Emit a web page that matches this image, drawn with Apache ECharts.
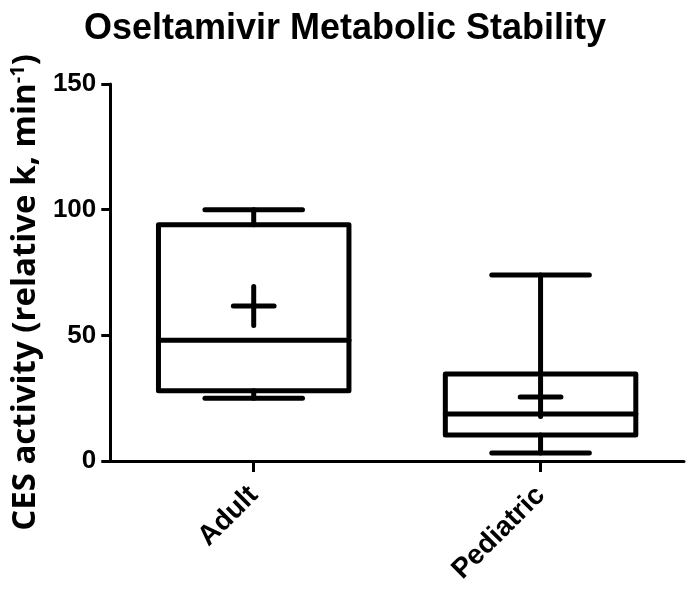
<!DOCTYPE html>
<html>
<head>
<meta charset="utf-8">
<script src="https://cdn.jsdelivr.net/npm/echarts@6/dist/echarts.min.js"></script>
<style>
html,body{margin:0;padding:0;background:#fff;}
#chart{width:690px;height:601px;}
</style>
</head>
<body>
<div id="chart"></div>
<script>
// ---- data ----
const categories = ['Adult', 'Pediatric'];
const whiskerMin = [25, 3.2];
const q1 = [28, 10.3];
const median = [48, 18.7];
const q3 = [94, 34.6];
const whiskerMax = [100, 74];
const mean = [61.7, 25.5];
const yTicks = [0, 50, 100, 150];

const data = categories.map((c, i) => [i, whiskerMin[i], q1[i], median[i], q3[i], whiskerMax[i], mean[i]]);

const chart = echarts.init(document.getElementById('chart'), null, {renderer: 'canvas'});

const LW = 5;
function renderItem(params, api) {
  const idx = api.value(0);
  const band = api.size([1, 0])[0];
  const boxHalf = band * 0.332;
  const capHalf = band * 0.17;
  const meanHalfW = band * 0.071;
  const meanHalfH = 19.5;
  const pMin = api.coord([idx, api.value(1)]);
  const pQ1 = api.coord([idx, api.value(2)]);
  const pMed = api.coord([idx, api.value(3)]);
  const pQ3 = api.coord([idx, api.value(4)]);
  const pMax = api.coord([idx, api.value(5)]);
  const pMean = api.coord([idx, api.value(6)]);
  const x = pMed[0];
  const st = {stroke: '#000', lineWidth: LW, fill: null, lineCap: 'round', lineJoin: 'round'};
  const line = (x1, y1, x2, y2) => ({type: 'line', shape: {x1, y1, x2, y2}, style: st});
  return {
    type: 'group',
    children: [
      line(x, pQ3[1], x, pMax[1]),
      line(x - capHalf, pMax[1], x + capHalf, pMax[1]),
      line(x, pQ1[1], x, pMin[1]),
      line(x - capHalf, pMin[1], x + capHalf, pMin[1]),
      {type: 'rect', shape: {x: x - boxHalf, y: pQ3[1], width: boxHalf * 2, height: pQ1[1] - pQ3[1]}, style: st},
      line(x - boxHalf, pMed[1], x + boxHalf, pMed[1]),
      line(x - meanHalfW, pMean[1], x + meanHalfW, pMean[1]),
      line(x, pMean[1] - meanHalfH, x, pMean[1] + meanHalfH)
    ]
  };
}

chart.setOption({
  backgroundColor: '#fff',
  animation: false,
  title: {
    text: 'Oseltamivir Metabolic Stability',
    left: 'center',
    top: 6,
    textStyle: {fontFamily: 'Liberation Sans', fontWeight: 'bold', fontSize: 36, color: '#000'}
  },
  grid: {left: 107, right: 6, top: 84, bottom: 140, containLabel: false},
  xAxis: {
    type: 'category',
    data: categories,
    boundaryGap: true,
    axisLine: {show: true, lineStyle: {color: '#000', width: 3}},
    axisTick: {show: true, alignWithLabel: true, length: 11, lineStyle: {color: '#000', width: 3}},
    axisLabel: {
      rotate: 45, margin: 30, color: '#000',
      fontFamily: 'Liberation Sans', fontWeight: 'bold', fontSize: 28
    },
    splitLine: {show: false}
  },
  yAxis: {
    type: 'value',
    min: yTicks[0], max: yTicks[yTicks.length - 1], interval: 50,
    name: 'CES activity (relative k, min{sup|-1})',
    nameLocation: 'middle',
    nameGap: 62,
    nameTextStyle: {
      fontFamily: 'Open Sans', fontWeight: 'bold', fontSize: 33, color: '#000',
      padding: [0, 40, 0, 0],
      rich: {sup: {fontFamily: 'Open Sans', fontWeight: 'bold', fontSize: 20, color: '#000', verticalAlign: 'top', padding: [0, 0, 15, 0]}}
    },
    axisLine: {show: true, lineStyle: {color: '#000', width: 3}},
    axisTick: {show: true, length: 9, lineStyle: {color: '#000', width: 3}},
    axisLabel: {margin: 14, color: '#000', fontFamily: 'Liberation Sans', fontWeight: 'bold', fontSize: 26},
    splitLine: {show: false}
  },
  series: [{
    type: 'custom',
    renderItem: renderItem,
    data: data,
    encode: {x: 0, y: [1, 2, 3, 4, 5, 6]},
    clip: false,
    z: 5
  }]
});
</script>
</body>
</html>
